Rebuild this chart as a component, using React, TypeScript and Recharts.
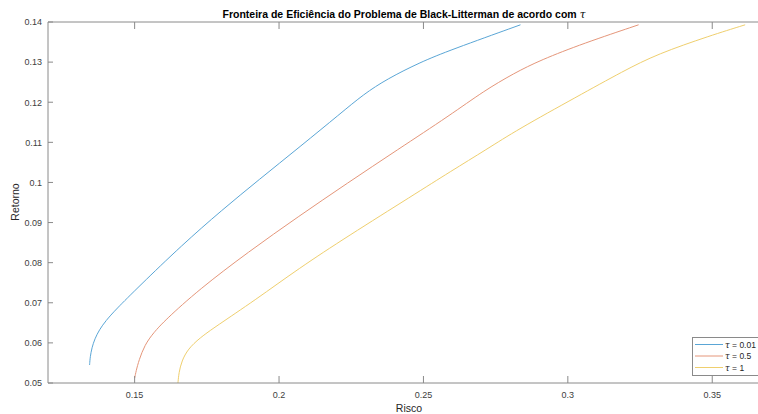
import React from "react";
import { LineChart, Line, XAxis, YAxis, Legend } from "recharts";

// Fronteira eficiente (risco x retorno) para três valores de tau
const riskTau001 = [
  0.1344, 0.1346, 0.1352, 0.1362, 0.1378, 0.14, 0.1433, 0.1514, 0.1664, 0.1802,
  0.1929, 0.2074, 0.2213, 0.2293, 0.2374, 0.249, 0.2593, 0.2836,
];
const retTau001 = [
  0.0545, 0.0565, 0.0588, 0.061, 0.0633, 0.0655, 0.0682, 0.074, 0.0844, 0.0931,
  0.1006, 0.109, 0.1172, 0.122, 0.1258, 0.13, 0.133, 0.1393,
];

const riskTau05 = [
  0.15, 0.1505, 0.1515, 0.1535, 0.1565, 0.1606, 0.1721, 0.1894, 0.2067, 0.2236,
  0.2409, 0.2593, 0.2709, 0.2813, 0.2905, 0.3055, 0.3245,
];
const retTau05 = [
  0.0512, 0.053, 0.0557, 0.0595, 0.0625, 0.0657, 0.0732, 0.0827, 0.0915, 0.0998,
  0.1081, 0.1168, 0.1228, 0.1272, 0.1305, 0.1347, 0.1393,
];

const riskTau1 = [
  0.165, 0.1653, 0.1663, 0.1685, 0.1725, 0.1779, 0.1918, 0.2067, 0.2236, 0.2466,
  0.2593, 0.272, 0.2824, 0.3032, 0.3193, 0.3309, 0.3493, 0.3614,
];
const retTau1 = [
  0.05, 0.0525, 0.0555, 0.0585, 0.0612, 0.064, 0.0707, 0.0785, 0.0865, 0.0969,
  0.1027, 0.1083, 0.1131, 0.1214, 0.1278, 0.132, 0.1366, 0.1393,
];

const xTicks = [0.15, 0.2, 0.25, 0.3, 0.35];
const yTicks = [0.05, 0.06, 0.07, 0.08, 0.09, 0.1, 0.11, 0.12, 0.13, 0.14];

const series = [
  { label: "0.01", risk: riskTau001, ret: retTau001, color: "#5aa6d6" },
  { label: "0.5", risk: riskTau05, ret: retTau05, color: "#e5967a" },
  { label: "1", risk: riskTau1, ret: retTau1, color: "#efcf6e" },
];

const toPoints = (risk: number[], ret: number[]) =>
  risk.map((x, i) => ({ x, y: ret[i] }));

const AXIS = "#8a8a8a";
const FONT = "'Liberation Sans', Arial, sans-serif";
const fmt = (v: number) => String(+v.toFixed(2));

const BottomTick = (props: any) => {
  const { x, y, payload } = props;
  return (
    <g>
      <line x1={x} x2={x} y1={y} y2={y - 7} stroke={AXIS} />
      <text x={x} y={y + 14.5} textAnchor="middle" fontSize={9} fill="#404040" fontFamily={FONT}>
        {fmt(payload.value)}
      </text>
    </g>
  );
};

const TopTick = (props: any) => {
  const { x, y } = props;
  return <line x1={x} x2={x} y1={y} y2={y + 7} stroke={AXIS} />;
};

const LeftTick = (props: any) => {
  const { x, y, payload } = props;
  return (
    <g>
      <line x1={x} x2={x + 5} y1={y} y2={y} stroke={AXIS} />
      <text x={x - 6} y={y + 3.3} textAnchor="end" fontSize={9} fill="#404040" fontFamily={FONT}>
        {fmt(payload.value)}
      </text>
    </g>
  );
};

const LegendBox = () => (
  <svg width={74} height={40} style={{ display: "block" }}>
    <rect x={0.5} y={0.5} width={78} height={38} fill="#fff" stroke={AXIS} />
    {series.map((s, i) => (
      <g key={s.label}>
        <line x1={3} x2={31} y1={7.5 + i * 11.5} y2={7.5 + i * 11.5} stroke={s.color} />
        <text x={33} y={10.5 + i * 11.5} fontSize={8.5} fill="#262626" fontFamily={FONT}>
          <tspan fontStyle="italic" fontFamily="'DejaVu Serif', serif">τ</tspan>
          {" = " + s.label}
        </text>
      </g>
    ))}
  </svg>
);

export default function App() {
  return (
    <div
      style={{
        position: "fixed",
        left: 0,
        top: 0,
        width: 758,
        height: 414,
        overflow: "hidden",
        background: "#fff",
      }}
    >
      <LineChart
        width={800}
        height={414}
        margin={{ top: 21, right: 30, bottom: 30, left: 0 }}
      >
        <XAxis
          type="number"
          dataKey="x"
          domain={[0.12, 0.37]}
          ticks={xTicks}
          allowDataOverflow
          height={1}
          tickSize={0}
          tickMargin={0}
          stroke={AXIS}
          tick={<BottomTick />}
        />
        <XAxis
          xAxisId="top"
          orientation="top"
          type="number"
          dataKey="x"
          domain={[0.12, 0.37]}
          ticks={xTicks}
          allowDataOverflow
          height={1}
          tickSize={0}
          tickMargin={0}
          stroke={AXIS}
          tick={<TopTick />}
        />
        <YAxis
          type="number"
          dataKey="y"
          domain={[0.05, 0.14]}
          ticks={yTicks}
          allowDataOverflow
          width={48}
          tickSize={0}
          tickMargin={0}
          stroke={AXIS}
          tick={<LeftTick />}
        />
        <Legend
          layout="vertical"
          align="center"
          verticalAlign="middle"
          content={<LegendBox />}
          wrapperStyle={{ position: "absolute", left: 692, top: 337, width: 74, height: 40 }}
        />
        {series.map((s) => (
          <Line
            key={s.label}
            name={s.label}
            data={toPoints(s.risk, s.ret)}
            dataKey="y"
            type="basis"
            stroke={s.color}
            strokeWidth={1}
            dot={false}
            activeDot={false}
            isAnimationActive={false}
          />
        ))}
        <Line
          xAxisId="top"
          data={toPoints(riskTau001, retTau001)}
          dataKey="y"
          stroke="none"
          dot={false}
          activeDot={false}
          legendType="none"
          isAnimationActive={false}
        />
      </LineChart>
      <svg
        width={758}
        height={414}
        style={{ position: "absolute", left: 0, top: 0, pointerEvents: "none" }}
      >
        <text x={404} y={18} textAnchor="middle" fontSize={10.5} fontWeight="bold" fill="#000" fontFamily={FONT}>
          Fronteira de Eficiência do Problema de Black-Litterman de acordo com{" "}
          <tspan fontStyle="italic" fontWeight="normal" fontFamily="'DejaVu Serif', serif">τ</tspan>
        </text>
        <text x={409} y={412} textAnchor="middle" fontSize={10.5} fill="#262626" fontFamily={FONT}>
          Risco
        </text>
        <text
          x={18.5}
          y={202}
          textAnchor="middle"
          fontSize={10.5}
          fill="#262626"
          fontFamily={FONT}
          transform="rotate(-90 18.5 202)"
        >
          Retorno
        </text>
      </svg>
    </div>
  );
}
